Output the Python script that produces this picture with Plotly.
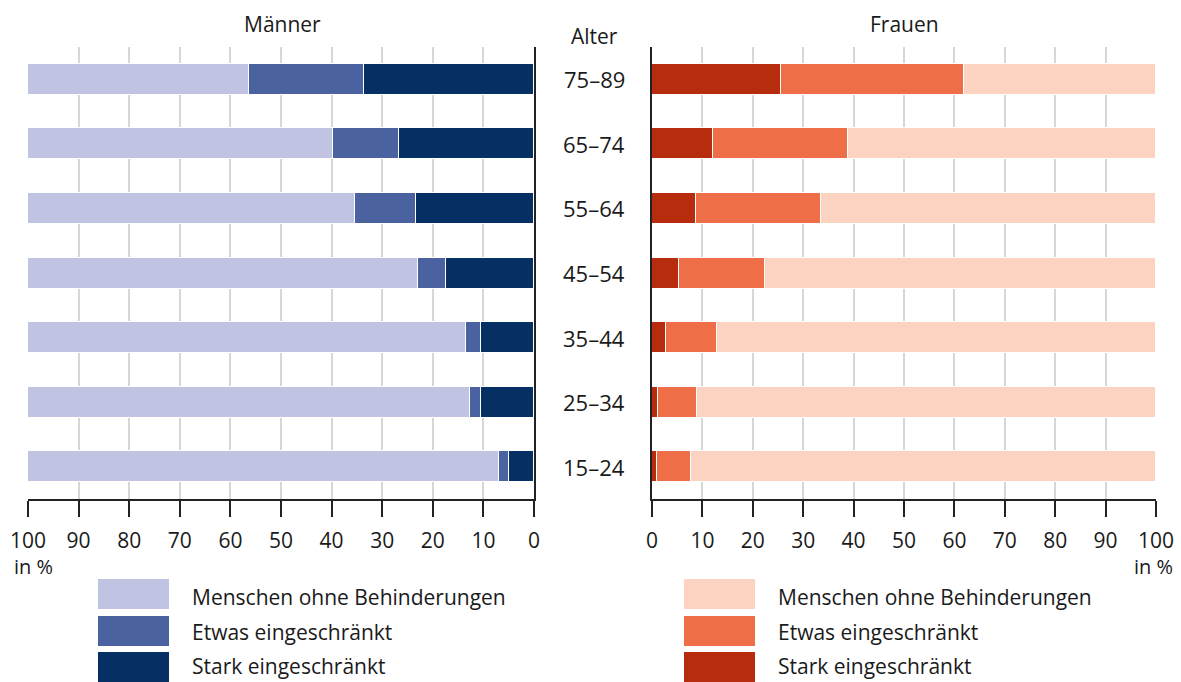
import plotly.graph_objects as go

W, H = 1181, 682

ages = ["15–24", "25–34", "35–44", "45–54", "55–64", "65–74", "75–89"]
series_names = ["Menschen ohne Behinderungen", "Etwas eingeschränkt", "Stark eingeschränkt"]

# Männer (%)
men_stark = [4.9, 10.4, 10.4, 17.3, 23.3, 26.6, 33.6]
men_etwas = [2.1, 2.2, 3.1, 5.7, 12.1, 13.1, 22.8]
men_ohne = [93.0, 87.4, 86.5, 77.0, 64.6, 60.3, 43.6]

# Frauen (%)
women_stark = [0.9, 1.2, 2.7, 5.4, 8.8, 12.1, 25.5]
women_etwas = [6.9, 7.7, 10.2, 17.0, 24.8, 26.8, 36.4]
women_ohne = [92.2, 91.1, 87.1, 77.6, 66.4, 61.1, 38.1]

tick_vals = [0, 10, 20, 30, 40, 50, 60, 70, 80, 90, 100]

men_colors = ["#c0c4e2", "#4a62a0", "#062f64"]
women_colors = ["#fcd3c1", "#ee6f47", "#b72c0c"]

FONT = "Open Sans"
TXT = "#1a1a1a"


def px(x):
    return x / W


def py(y):
    return 1 - y / H


fig = go.Figure()

bar_w = 0.48
line = dict(color="white", width=1.5)

# left (men): stack from 0 at right
for vals, col, name in [(men_stark, men_colors[2], series_names[2]),
                        (men_etwas, men_colors[1], series_names[1]),
                        (men_ohne, men_colors[0], series_names[0])]:
    fig.add_trace(go.Bar(x=vals, y=ages, orientation="h", marker=dict(color=col, line=line),
                         width=bar_w, name=name, xaxis="x", yaxis="y", showlegend=False))

for vals, col, name in [(women_stark, women_colors[2], series_names[2]),
                        (women_etwas, women_colors[1], series_names[1]),
                        (women_ohne, women_colors[0], series_names[0])]:
    fig.add_trace(go.Bar(x=vals, y=ages, orientation="h", marker=dict(color=col, line=line),
                         width=bar_w, name=name, xaxis="x2", yaxis="y2", showlegend=False))

ydom = [py(499), py(47)]
xcommon = dict(
    tickvals=tick_vals, ticks="outside", ticklen=16, tickwidth=2, tickcolor="#222",
    showline=True, linecolor="#222", linewidth=2, showgrid=True, gridcolor="#d6d6d6",
    gridwidth=2, zeroline=False, tickfont=dict(family=FONT, size=21, color=TXT),
    ticklabelstandoff=6, fixedrange=True, automargin=False,
)
ycommon = dict(
    type="category", categoryorder="array", categoryarray=ages, range=[-0.5, 6.5],
    showticklabels=False, ticks="", showgrid=False, zeroline=False, showline=True,
    linecolor="#222", linewidth=2, domain=ydom, automargin=False, fixedrange=True,
)

fig.update_layout(
    width=W, height=H, autosize=False, margin=dict(l=0, r=0, t=0, b=0, pad=0),
    paper_bgcolor="white", plot_bgcolor="white", barmode="stack", bargap=0,
    showlegend=False,
    font=dict(family=FONT, size=21, color=TXT),
    xaxis=dict(domain=[px(28), px(534)], range=[100, 0], anchor="y", **xcommon),
    yaxis=dict(anchor="x", side="right", **ycommon),
    xaxis2=dict(domain=[px(652), px(1156)], range=[0, 100], anchor="y2", **xcommon),
    yaxis2=dict(anchor="x2", side="left", **ycommon),
)


def note(text, x, y, xanchor="center", size=21, yref="paper"):
    return dict(text=text, x=px(x), y=(py(y) if yref == "paper" else y), xref="paper",
                yref=yref, xanchor=xanchor, yanchor="middle", showarrow=False,
                font=dict(family=FONT, size=size, color=TXT))


ann = []
ann.append(note("Männer", 282, 24))
ann.append(note("Frauen", 904, 24))
ann.append(note("Alter", 594, 36))
for a in ages:
    ann.append(note(a, 594, a, size=22, yref="y2"))
ann.append(note("in %", 12, 566, xanchor="left", size=20))
ann.append(note("in %", 1175, 566, xanchor="right", size=20))

shapes = []
swatch_tops = [579, 616, 652]
text_centers = [597, 632, 666]
for i, name in enumerate(series_names):
    for (x0, x1, tx, cols) in [(98, 169, 190, men_colors), (684, 755, 776, women_colors)]:
        shapes.append(dict(type="rect", xref="paper", yref="paper",
                           x0=px(x0), x1=px(x1), y0=py(swatch_tops[i] + 30), y1=py(swatch_tops[i]),
                           fillcolor=cols[i], line=dict(width=0)))
        ann.append(note(name, tx, text_centers[i], xanchor="left", size=21))

fig.update_layout(annotations=ann, shapes=shapes)
fig.write_html("out.html", config=dict(displayModeBar=False),
               post_script="document.body.style.margin='0';document.body.style.overflow='hidden';")
